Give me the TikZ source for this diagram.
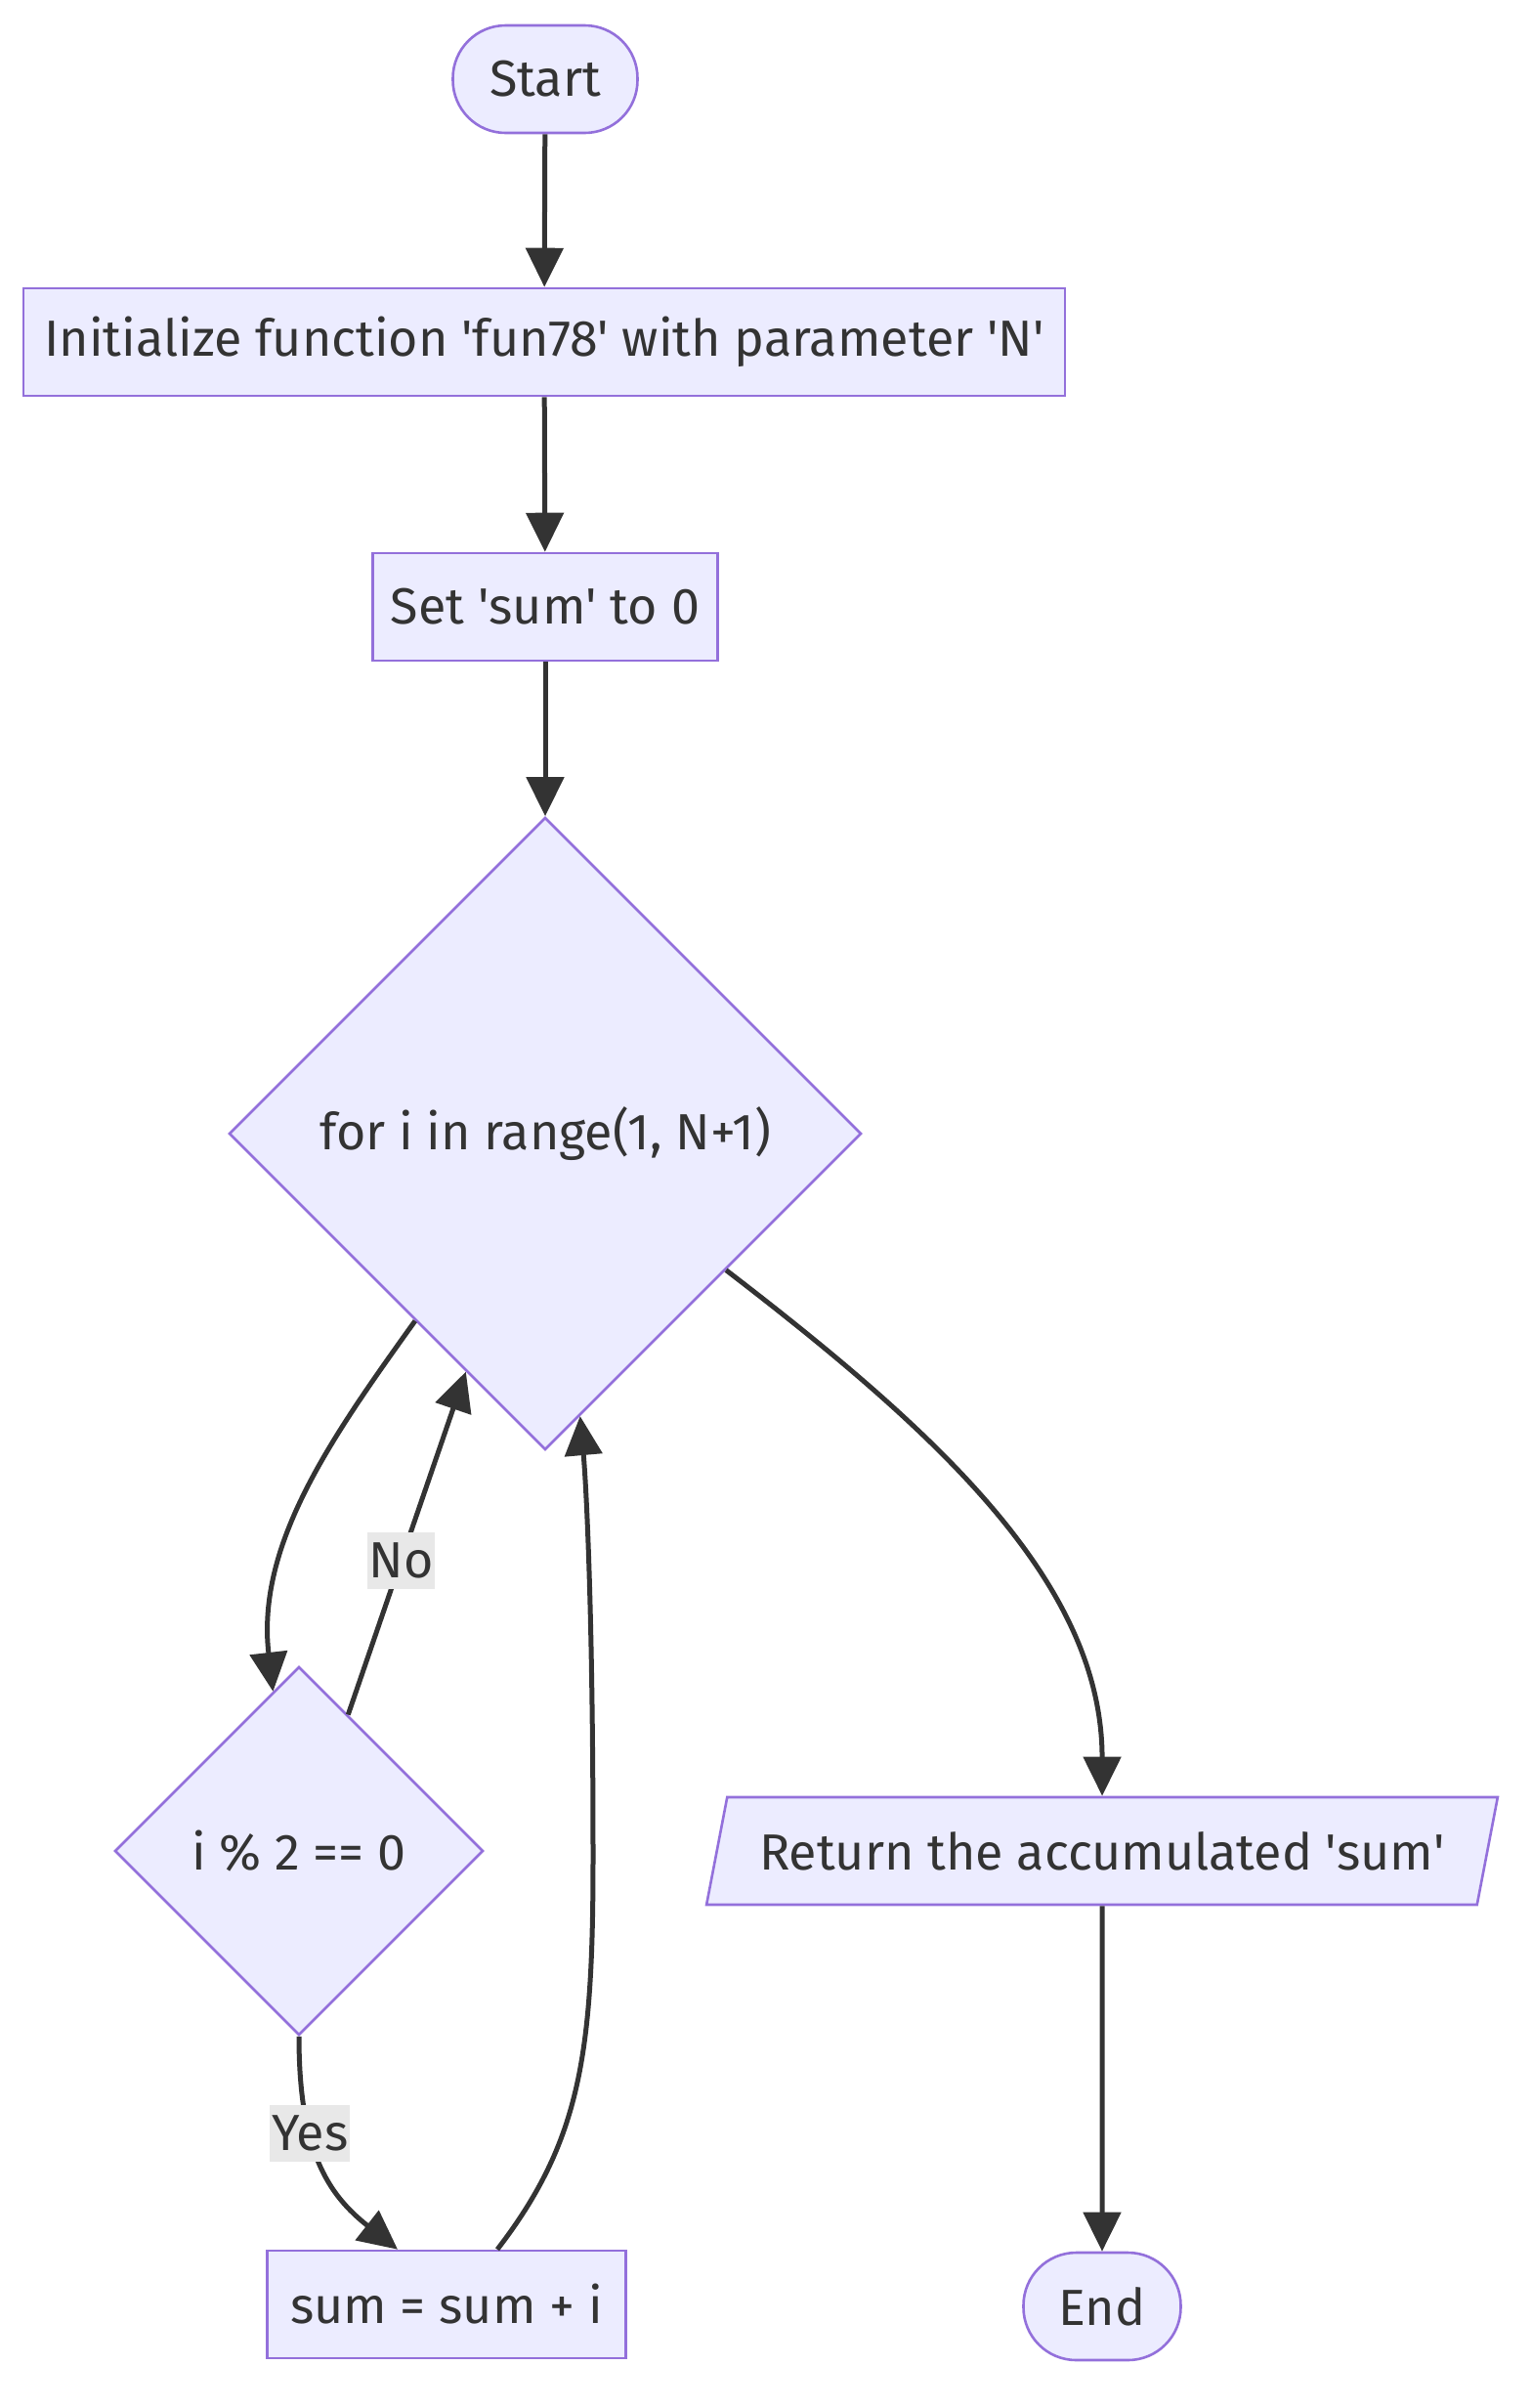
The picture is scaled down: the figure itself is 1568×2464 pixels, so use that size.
\documentclass[tikz,border=0pt]{standalone}
\usepackage{fontspec}
\setmainfont{Fira Sans}
\usetikzlibrary{arrows.meta, positioning, shapes.geometric, calc}
\definecolor{nodefill}{HTML}{ECECFF}
\definecolor{nodeline}{HTML}{9370DB}
\definecolor{edgeline}{HTML}{333333}
\definecolor{labelbg}{HTML}{E8E8E8}
\newcommand{\sq}{\textquotesingle}

\begin{document}
\begin{tikzpicture}[
  x=0.5pt, y=-0.5pt,
  every node/.style={font=\fontsize{26}{31}\selectfont, text=edgeline},
  term/.style={draw=nodeline, fill=nodefill, line width=1.3pt, rounded corners=27pt,
               minimum height=55pt, inner sep=0pt},
  proc/.style={draw=nodeline, fill=nodefill, line width=1.3pt, minimum height=55pt, inner sep=0pt},
  decision/.style={diamond, aspect=1, draw=nodeline, fill=nodefill, line width=1.3pt, inner sep=0pt},
  io/.style={trapezium, trapezium left angle=64, trapezium right angle=116, trapezium stretches=true,
             draw=nodeline, fill=nodefill, line width=1.3pt, minimum height=55pt, minimum width=405pt,
             inner sep=0pt},
  flow/.style={-{Triangle[length=20pt,width=19pt]}, line width=2.5pt, edgeline},
  edgelabel/.style={fill=labelbg, inner xsep=1pt, inner ysep=0pt, minimum height=29pt}
]
\useasboundingbox (0,0) rectangle (1568,2464);

% ── Main column ──
\node[term, minimum width=94.5pt] (start) at (558,81) {Start};
\node[proc, minimum width=533pt] (init) at (557,350) {Initialize function \sq fun78\sq{} with parameter \sq N\sq};
\node[proc, minimum width=176.5pt] (setsum) at (558,621) {Set \sq sum\sq{} to 0};
\node[decision, minimum width=323.5pt, minimum height=323.5pt] (loop) at (558,1160) {for i in range(1, N+1)};

% ── Loop body ──
\node[decision, minimum width=188.5pt, minimum height=188.5pt] (even) at (306,1894) {i \% 2 == 0};
\node[proc, minimum width=183.5pt] (add) at (457,2358) {sum = sum + i};

% ── Exit ──
\node[io] (ret) at (1128,1894) {Return the accumulated \sq sum\sq};
\node[term, minimum width=80.5pt] (end) at (1128,2360) {End};

% ── Arrows ──
\draw[flow] (start) -- (init);
\draw[flow] (init) -- (setsum);
\draw[flow] (setsum) -- (loop);
\draw[flow] ($(loop.west)!0.59!(loop.south)$) .. controls (340,1470) and (262,1580) .. ($(even.north)!0.14!(even.west)$);
\draw[flow] ($(even.north)!0.265!(even.east)$) -- node[edgelabel, pos=0.45] (nolbl) {No} ($(loop.west)!0.75!(loop.south)$);
\draw[flow] (even.south) .. controls (306,2200) and (335,2245) .. node[edgelabel, pos=0.35] (yeslbl) {Yes} ([xshift=-25pt]add.north);
\draw[flow] ([xshift=26pt]add.north) .. controls (595,2190) and (607,2100) .. (607,1900)
  .. controls (607,1650) and (600,1520) .. ($(loop.south)!0.11!(loop.east)$);
\draw[flow] ($(loop.east)!0.43!(loop.south)$) .. controls (960,1466) and (1128,1620) .. (ret.north);
\draw[flow] (ret) -- (end);

\end{tikzpicture}
\end{document}
